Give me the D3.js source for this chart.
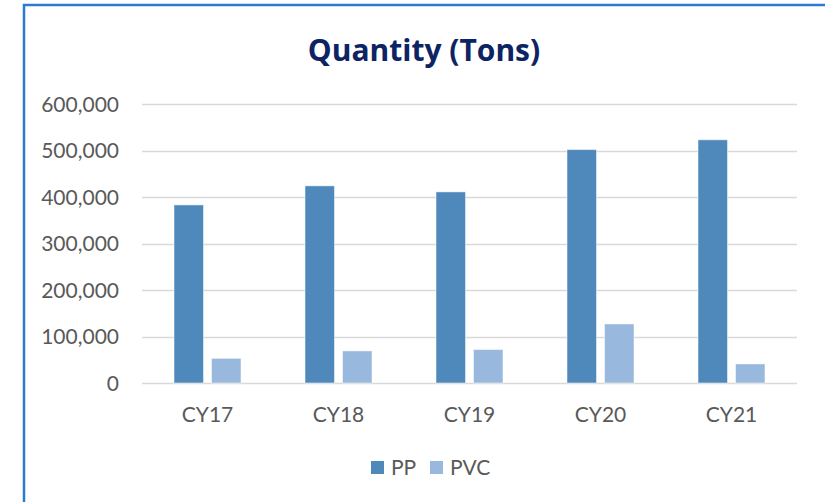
<!DOCTYPE html>
<html>
<head>
<meta charset="utf-8">
<script src="https://cdn.jsdelivr.net/npm/d3@7"></script>
<style>
  html, body { margin: 0; padding: 0; background: #fff; }
  svg { display: block; }
</style>
</head>
<body>
<svg id="chart" width="825" height="502"></svg>
<script>
// Annual quantities in tons
const categories = ["CY17", "CY18", "CY19", "CY20", "CY21"];
const seriesNames = ["PP", "PVC"];
const ppValues = [383000, 424000, 411000, 502000, 523000];
const pvcValues = [53000, 69000, 72000, 127000, 41000];
const yTicks = [0, 100000, 200000, 300000, 400000, 500000, 600000];
const colors = { PP: "#4f89bc", PVC: "#99b8de" };

const rows = categories.map((c, i) => ({ cat: c, PP: ppValues[i], PVC: pvcValues[i] }));

const svg = d3.select("#chart");
const W = 825, H = 502;
const plot = { left: 142, right: 797, top: 104, bottom: 383 };
const font = "Lato, 'Open Sans', sans-serif";
const titleFont = "'Open Sans', Lato, sans-serif";

// frame
svg.append("rect").attr("width", W).attr("height", H).attr("fill", "#fff");
svg.append("path")
  .attr("d", `M24,${H} L24,5 L${W},5`)
  .attr("fill", "none").attr("stroke", "#2a7bd0").attr("stroke-width", 2.5);

// title
svg.append("text")
  .attr("x", 424).attr("y", 61)
  .attr("text-anchor", "middle")
  .attr("font-family", titleFont).attr("font-weight", 700).attr("font-size", 30)
  .attr("fill", "#0c2463")
  .text("Quantity (Tons)");

const y = d3.scaleLinear().domain([0, 600000]).range([plot.bottom, plot.top]);
const x0 = d3.scaleBand().domain(categories).range([plot.left, plot.right]).paddingInner(0).paddingOuter(0);
const groupW = 67;
const x1 = d3.scaleBand().domain(seriesNames).range([0, groupW]).paddingInner(0.213).paddingOuter(0);

// gridlines
svg.append("g").selectAll("line").data(yTicks).join("line")
  .attr("x1", plot.left).attr("x2", plot.right)
  .attr("y1", d => Math.round(y(d)) + 0.5).attr("y2", d => Math.round(y(d)) + 0.5)
  .attr("stroke", "#d9d9d9").attr("stroke-width", 1.5);

// y axis labels
const yAxis = d3.axisLeft(y).tickValues(yTicks).tickSize(0).tickPadding(0)
  .tickFormat(d3.format(","));
const gy = svg.append("g").attr("transform", `translate(119,0)`).call(yAxis);
gy.select(".domain").remove();
gy.selectAll("text")
  .attr("font-family", font).attr("font-size", 21).attr("fill", "#595959")
  .attr("dy", "0.35em");

// bars
const groups = svg.append("g").selectAll("g").data(rows).join("g")
  .attr("transform", d => `translate(${x0(d.cat) + (x0.bandwidth() - groupW) / 2},0)`);
groups.selectAll("rect")
  .data(d => seriesNames.map(s => ({ s, v: d[s] })))
  .join("rect")
  .attr("x", d => x1(d.s))
  .attr("width", x1.bandwidth())
  .attr("y", d => y(d.v))
  .attr("height", d => y(0) - y(d.v))
  .attr("fill", d => colors[d.s])
  .attr("stroke", "#ffffff").attr("stroke-opacity", 0.5).attr("stroke-width", 1);

// x axis labels
const xAxis = d3.axisBottom(x0).tickSize(0).tickPadding(0);
const gx = svg.append("g").attr("transform", `translate(0,${plot.bottom})`).call(xAxis);
gx.select(".domain").remove();
gx.selectAll("text")
  .attr("font-family", font).attr("font-size", 21).attr("fill", "#595959")
  .attr("dy", null).attr("y", 39);

// legend
const legend = svg.append("g");
const legendItems = [{ s: "PP", x: 371, tx: 391 }, { s: "PVC", x: 430, tx: 450 }];
legend.selectAll("rect").data(legendItems).join("rect")
  .attr("x", d => d.x).attr("y", 461).attr("width", 13).attr("height", 13)
  .attr("fill", d => colors[d.s]);
legend.selectAll("text").data(legendItems).join("text")
  .attr("x", d => d.tx).attr("y", 474.5)
  .attr("font-family", font).attr("font-size", 21).attr("fill", "#595959")
  .text(d => d.s);
</script>
</body>
</html>
